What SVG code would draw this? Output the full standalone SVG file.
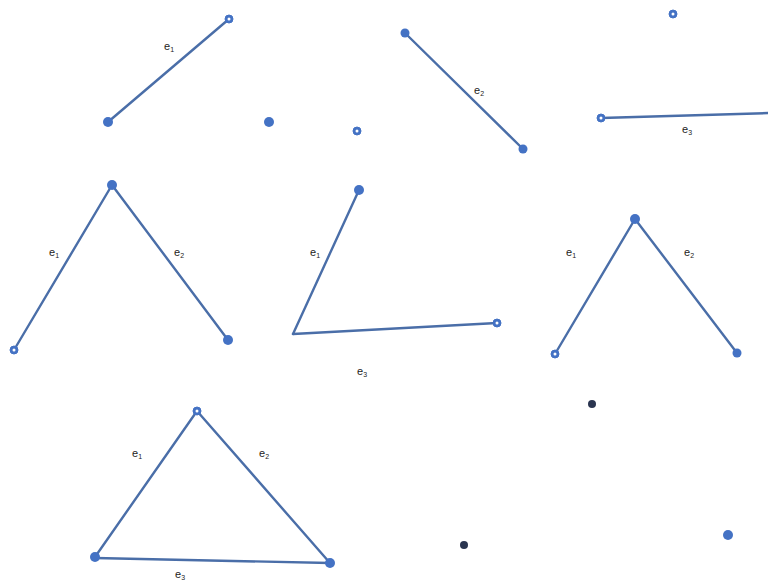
<svg xmlns="http://www.w3.org/2000/svg" width="768" height="585" viewBox="0 0 768 585">
<style>
.e{stroke:#4a6ea8;stroke-width:2.4;fill:none;stroke-linecap:round}
.v{fill:#4472c4}
.vh{fill:#4472c4;stroke:#4472c4;stroke-width:1}
.hole{fill:#ffffff}
.vd{fill:#2a3550}
text{font-family:"Liberation Sans",Arial,sans-serif;font-size:11px;fill:#222}
.s{font-size:7px}
</style>
<defs>
<g id="hv"><circle class="vh" r="4"/><circle class="hole" r="1.5"/></g>
</defs>
<rect width="768" height="585" fill="#ffffff"/>
<g id="connectors">
<line class="e" x1="108" y1="122" x2="229" y2="19"/>
<line class="e" x1="405" y1="33" x2="523" y2="149"/>
<line class="e" x1="601" y1="118" x2="770" y2="113"/>
<line class="e" x1="112" y1="185" x2="14" y2="350"/>
<line class="e" x1="112" y1="185" x2="228" y2="340"/>
<line class="e" x1="359" y1="190" x2="293" y2="334"/>
<line class="e" x1="293" y1="334" x2="497" y2="323"/>
<line class="e" x1="635" y1="219" x2="555" y2="354"/>
<line class="e" x1="635" y1="219" x2="737" y2="353"/>
<line class="e" x1="197" y1="411" x2="95" y2="557"/>
<line class="e" x1="197" y1="411" x2="330" y2="563"/>
<line class="e" x1="95" y1="558" x2="330" y2="563"/>
</g>
<g id="labels">
<text x="164" y="50">e<tspan class="s" dy="2">1</tspan></text>
<text x="474" y="94">e<tspan class="s" dy="2">2</tspan></text>
<text x="682" y="133">e<tspan class="s" dy="2">3</tspan></text>
<text x="49" y="256">e<tspan class="s" dy="2">1</tspan></text>
<text x="174" y="256">e<tspan class="s" dy="2">2</tspan></text>
<text x="310" y="256">e<tspan class="s" dy="2">1</tspan></text>
<text x="357" y="375">e<tspan class="s" dy="2">3</tspan></text>
<text x="566" y="256">e<tspan class="s" dy="2">1</tspan></text>
<text x="684" y="256">e<tspan class="s" dy="2">2</tspan></text>
<text x="132" y="457">e<tspan class="s" dy="2">1</tspan></text>
<text x="259" y="457">e<tspan class="s" dy="2">2</tspan></text>
<text x="175" y="578">e<tspan class="s" dy="2">3</tspan></text>
</g>
<g id="n1"><circle class="v" cx="108" cy="122" r="5"/></g>
<g id="n2"><use href="#hv" x="229" y="19"/></g>
<g id="n3"><circle class="v" cx="269" cy="122" r="5"/></g>
<g id="n4"><use href="#hv" x="357" y="131"/></g>
<g id="n5"><circle class="v" cx="405" cy="33" r="4.5"/></g>
<g id="n6"><circle class="v" cx="523" cy="149" r="4.5"/></g>
<g id="n7"><use href="#hv" x="673" y="14"/></g>
<g id="n8"><use href="#hv" x="601" y="118"/></g>
<g id="n9"><circle class="v" cx="112" cy="185" r="5"/></g>
<g id="n10"><use href="#hv" x="14" y="350"/></g>
<g id="n11"><circle class="v" cx="228" cy="340" r="5"/></g>
<g id="n12"><circle class="v" cx="359" cy="190" r="5"/></g>
<g id="n13"><use href="#hv" x="497" y="323"/></g>
<g id="n14"><circle class="v" cx="635" cy="219" r="5"/></g>
<g id="n15"><use href="#hv" x="555" y="354"/></g>
<g id="n16"><circle class="v" cx="737" cy="353" r="4.5"/></g>
<g id="n17"><circle class="vd" cx="592" cy="404" r="4"/></g>
<g id="n18"><use href="#hv" x="197" y="411"/></g>
<g id="n19"><circle class="v" cx="95" cy="557" r="5"/></g>
<g id="n20"><circle class="v" cx="330" cy="563" r="5"/></g>
<g id="n21"><circle class="vd" cx="464" cy="545" r="4"/></g>
<g id="n22"><circle class="v" cx="728" cy="535" r="5"/></g>
</svg>
